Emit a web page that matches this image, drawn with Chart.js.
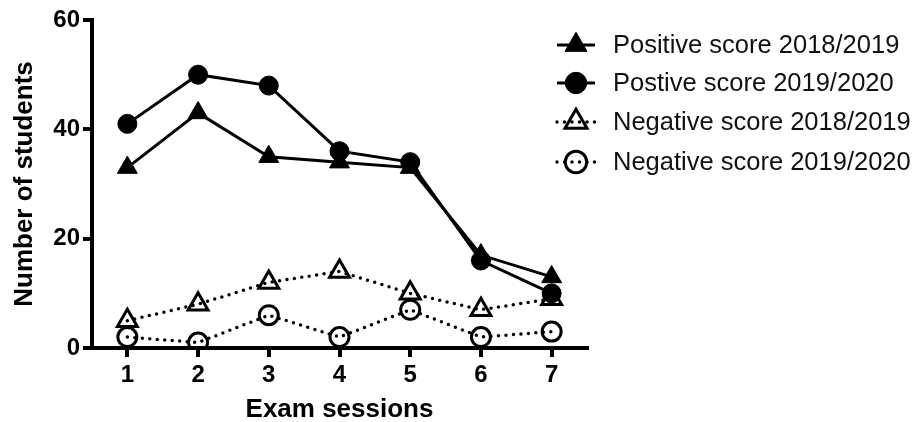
<!DOCTYPE html>
<html>
<head>
<meta charset="utf-8">
<script src="https://cdn.jsdelivr.net/npm/chart.js@4.4.1/dist/chart.umd.min.js"></script>
<style>
    html, body { margin: 0; padding: 0; background: #fff; }
</style>
</head>
<body>
<canvas id="chart" width="924" height="422"></canvas>
<script>
// data
const sessions = ['1', '2', '3', '4', '5', '6', '7'];
const posScore1819 = [33, 43, 35, 34, 33, 17, 13];
const posScore1920 = [41, 50, 48, 36, 34, 16, 10];
const negScore1819 = [5, 8, 12, 14, 10, 7, 9];
const negScore1920 = [2, 1, 6, 2, 7, 2, 3];
const yTicks = [0, 20, 40, 60];

const FONT = "'Liberation Sans', Arial, Helvetica, sans-serif";

function drawMarker(ctx, style, x, y, r, fill, stroke, lw) {
    ctx.beginPath();
    if (style === 'triangle') {
        let rad = 0;
        ctx.moveTo(x + Math.sin(rad) * r, y - Math.cos(rad) * r);
        rad += 2 * Math.PI / 3;
        ctx.lineTo(x + Math.sin(rad) * r, y - Math.cos(rad) * r);
        rad += 2 * Math.PI / 3;
        ctx.lineTo(x + Math.sin(rad) * r, y - Math.cos(rad) * r);
        ctx.closePath();
    } else {
        ctx.arc(x, y, r, 0, Math.PI * 2);
    }
    ctx.fillStyle = fill;
    ctx.fill();
    ctx.lineWidth = lw;
    ctx.strokeStyle = stroke;
    ctx.stroke();
}

// legend on the right: short line with the marker in the middle
const sideLegend = {
    id: 'sideLegend',
    afterDraw(chart) {
        const ctx = chart.ctx;
        const rows = [45, 83, 122, 162];
        chart.data.datasets.forEach((ds, i) => {
            const y = rows[i];
            ctx.save();
            ctx.beginPath();
            ctx.setLineDash(ds.borderDash || []);
            ctx.lineCap = ds.borderCapStyle || 'butt';
            ctx.lineWidth = ds.borderWidth;
            ctx.strokeStyle = '#000';
            ctx.moveTo(557, y);
            ctx.lineTo(595, y);
            ctx.stroke();
            ctx.setLineDash([]);
            drawMarker(ctx, ds.pointStyle, 576, y, ds.pointRadius + 1.2,
                ds.pointBackgroundColor, '#000', ds.pointBorderWidth);
            ctx.fillStyle = '#111';
            ctx.font = '25.5px ' + FONT;
            ctx.textBaseline = 'middle';
            ctx.textAlign = 'left';
            ctx.fillText(ds.label, 613, y + 1);
            ctx.restore();
        });
    }
};

const solid = {
    borderColor: '#000',
    borderWidth: 3,
    pointBorderColor: '#000',
    pointBackgroundColor: '#000',
    pointBorderWidth: 1,
};
const dotted = {
    borderColor: '#000',
    borderWidth: 3.5,
    borderDash: [0, 7.5],
    borderCapStyle: 'round',
    pointBorderColor: '#000',
    pointBackgroundColor: 'rgba(255,255,255,0)',
    pointBorderWidth: 3,
};

new Chart(document.getElementById('chart').getContext('2d'), {
    type: 'line',
    data: {
        labels: sessions,
        datasets: [
            Object.assign({ label: 'Positive score 2018/2019', data: posScore1819,
                pointStyle: 'triangle', pointRadius: 11.5 }, solid),
            Object.assign({ label: 'Postive score 2019/2020', data: posScore1920,
                pointStyle: 'circle', pointRadius: 9.5 }, solid),
            Object.assign({ label: 'Negative score 2018/2019', data: negScore1819,
                pointStyle: 'triangle', pointRadius: 11.5 }, dotted),
            Object.assign({ label: 'Negative score 2019/2020', data: negScore1920,
                pointStyle: 'circle', pointRadius: 9.5 }, dotted),
        ]
    },
    options: {
        responsive: false,
        animation: false,
        layout: {
            padding: { top: 20, right: 337, left: 0, bottom: 0 }
        },
        plugins: {
            legend: { display: false },
            tooltip: { enabled: false },
        },
        scales: {
            x: {
                type: 'category',
                offset: true,
                grid: {
                    offset: false,
                    drawOnChartArea: false,
                    drawTicks: true,
                    tickLength: 9,
                    lineWidth: 4,
                    color: '#000',
                },
                border: { display: true, width: 4, color: '#000' },
                ticks: {
                    color: '#000',
                    padding: 4,
                    font: { family: FONT, size: 24, weight: 'bold' },
                },
                title: {
                    display: true,
                    text: 'Exam sessions',
                    color: '#000',
                    padding: { top: 0, bottom: -3 },
                    font: { family: FONT, size: 26, weight: 'bold' },
                },
                afterFit(scale) { scale.height = 422 - 348; },
            },
            y: {
                min: 0,
                max: 60,
                afterBuildTicks(scale) {
                    scale.ticks = yTicks.map(v => ({ value: v }));
                },
                grid: {
                    drawOnChartArea: false,
                    drawTicks: true,
                    tickLength: 9,
                    lineWidth: 4,
                    color: '#000',
                },
                border: { display: true, width: 4, color: '#000' },
                ticks: {
                    color: '#000',
                    padding: 3,
                    font: { family: FONT, size: 24, weight: 'bold' },
                },
                title: {
                    display: true,
                    text: 'Number of students',
                    color: '#000',
                    padding: { top: 9, bottom: 0 },
                    font: { family: FONT, size: 26, weight: 'bold' },
                },
                afterFit(scale) { scale.width = 92; },
            }
        }
    },
    plugins: [sideLegend]
});
</script>
</body>
</html>
